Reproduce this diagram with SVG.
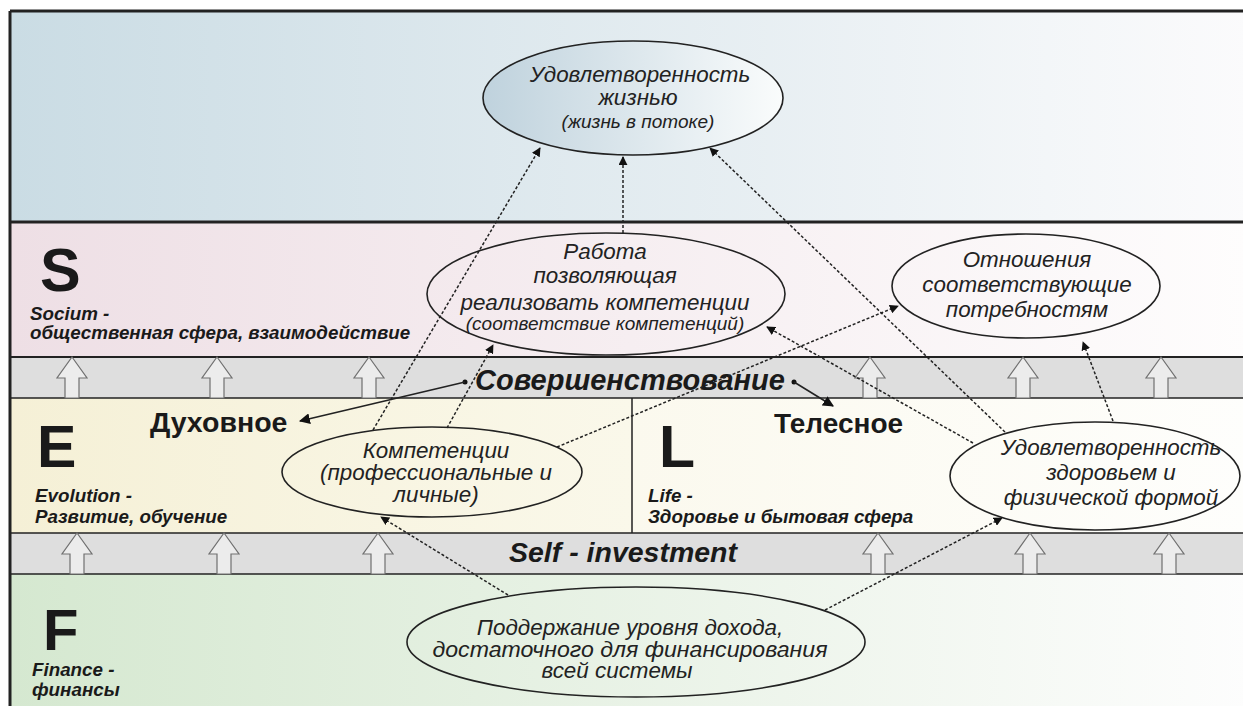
<svg xmlns="http://www.w3.org/2000/svg" width="1243" height="706" viewBox="0 0 1243 706">
<defs>
<linearGradient id="gTop" x1="0" y1="0" x2="1" y2="0"><stop offset="0" stop-color="#cadce4"/><stop offset="1" stop-color="#fbfbfc"/></linearGradient>
<linearGradient id="gS" x1="0" y1="0" x2="1" y2="0"><stop offset="0" stop-color="#eedfe5"/><stop offset="1" stop-color="#fefdfd"/></linearGradient>
<linearGradient id="gE" x1="0" y1="0" x2="1" y2="0"><stop offset="0" stop-color="#f5f0d6"/><stop offset="1" stop-color="#faf8ea"/></linearGradient>
<linearGradient id="gL" x1="0" y1="0" x2="1" y2="0"><stop offset="0" stop-color="#fbf9ee"/><stop offset="1" stop-color="#fefefc"/></linearGradient>
<linearGradient id="gF" x1="0" y1="0" x2="1" y2="0"><stop offset="0" stop-color="#d5e8d0"/><stop offset="1" stop-color="#fdfdfd"/></linearGradient>
<linearGradient id="gEl" x1="0" y1="0" x2="1" y2="0"><stop offset="0" stop-color="#bfd2dd"/><stop offset="1" stop-color="#fafcfc"/></linearGradient>
<marker id="ah" viewBox="0 0 10 10" refX="9" refY="5" markerWidth="9" markerHeight="9" markerUnits="userSpaceOnUse" orient="auto"><path d="M0,0 L10,5 L0,10 Z" fill="#111"/></marker>
<marker id="ahs" viewBox="0 0 10 10" refX="9" refY="5" markerWidth="11" markerHeight="11" markerUnits="userSpaceOnUse" orient="auto"><path d="M0,0 L10,5 L0,10 Z" fill="#111"/></marker>
<path id="upA" d="M0,0 L15,21 L7,21 L7,41 L-7,41 L-7,21 L-15,21 Z"/>
</defs>
<style>
.big{font-family:"Liberation Sans",Arial,sans-serif;font-weight:bold;fill:#1a1a1a}
.sub{font-family:"Liberation Sans",Arial,sans-serif;font-weight:bold;font-style:italic;font-size:18.8px;fill:#1a1a1a}
.el{font-family:"Liberation Sans",Arial,sans-serif;font-style:italic;font-size:22.4px;fill:#222;text-anchor:middle}
.sm{font-size:19px}
.ell{stroke:#222;stroke-width:1.6}
.dot{fill:none;stroke:#222;stroke-width:1.5;stroke-dasharray:3 2;marker-end:url(#ah)}
.sol{fill:none;stroke:#222;stroke-width:1.6;marker-end:url(#ahs)}
.arr{fill:#ececec;stroke:#707070;stroke-width:1.2}
.sep{stroke:#222}
</style>

<g id="bands">
<rect x="10" y="11" width="1240" height="211" fill="url(#gTop)"/>
<rect x="10" y="222" width="1240" height="135" fill="url(#gS)"/>
<rect x="10" y="357" width="1240" height="41" fill="#dedede"/>
<rect x="10" y="398" width="622" height="135" fill="url(#gE)"/>
<rect x="632" y="398" width="618" height="135" fill="url(#gL)"/>
<rect x="10" y="533" width="1240" height="41" fill="#dedede"/>
<rect x="10" y="574" width="1240" height="140" fill="url(#gF)"/>
<line class="sep" x1="10" y1="11" x2="1250" y2="11" stroke-width="3"/>
<line class="sep" x1="10" y1="11" x2="10" y2="706" stroke-width="3"/>
<line class="sep" x1="10" y1="222" x2="1250" y2="222" stroke-width="3"/>
<line class="sep" x1="10" y1="357" x2="1250" y2="357" stroke-width="1.8"/>
<line class="sep" x1="10" y1="398" x2="1250" y2="398" stroke-width="1.5"/>
<line class="sep" x1="632" y1="398" x2="632" y2="533" stroke-width="1.5"/>
<line class="sep" x1="10" y1="533" x2="1250" y2="533" stroke-width="1.5"/>
<line class="sep" x1="10" y1="574" x2="1250" y2="574" stroke-width="1.5"/>
</g>

<g id="up-arrows">
<use href="#upA" class="arr" x="72" y="357"/>
<use href="#upA" class="arr" x="217" y="357"/>
<use href="#upA" class="arr" x="369" y="357"/>
<use href="#upA" class="arr" x="870" y="357"/>
<use href="#upA" class="arr" x="1023" y="357"/>
<use href="#upA" class="arr" x="1161" y="357"/>
<use href="#upA" class="arr" x="77" y="533"/>
<use href="#upA" class="arr" x="224" y="533"/>
<use href="#upA" class="arr" x="378" y="533"/>
<use href="#upA" class="arr" x="878" y="533"/>
<use href="#upA" class="arr" x="1030" y="533"/>
<use href="#upA" class="arr" x="1169" y="533"/>
</g>

<g id="band-labels">
<text class="big" x="40" y="291" font-size="61">S</text>
<text class="sub" x="30" y="320">Socium -</text>
<text class="sub" x="30" y="339">общественная сфера, взаимодействие</text>
<text class="big" x="37" y="467" font-size="59">E</text>
<text class="sub" x="35" y="502">Evolution -</text>
<text class="sub" x="35" y="523">Развитие, обучение</text>
<text class="big" x="659" y="467" font-size="59">L</text>
<text class="sub" x="648" y="502">Life -</text>
<text class="sub" x="648" y="523">Здоровье и бытовая сфера</text>
<text class="big" x="43" y="650" font-size="58">F</text>
<text class="sub" x="32" y="676">Finance -</text>
<text class="sub" x="32" y="696">финансы</text>
<text class="big" x="150" y="432" font-size="28.5">Духовное</text>
<text class="big" x="774" y="433" font-size="28">Телесное</text>
<text class="big" x="630" y="390" font-size="29" font-style="italic" text-anchor="middle">Совершенствование</text>
<text class="big" x="623" y="562" font-size="28.5" font-style="italic" text-anchor="middle">Self - investment</text>
</g>

<g id="node-life">
<ellipse class="ell" cx="633" cy="98" rx="150" ry="57" fill="url(#gEl)"/>
<text class="el" x="640" y="82">Удовлетворенность</text>
<text class="el" x="638" y="105">жизнью</text>
<text class="el sm" x="638" y="128">(жизнь в потоке)</text>
</g>

<g id="node-work">
<ellipse class="ell" cx="606" cy="294" rx="179" ry="61" fill="none"/>
<text class="el" x="605" y="259">Работа</text>
<text class="el" x="605" y="283">позволяющая</text>
<text class="el" x="605" y="310">реализовать компетенции</text>
<text class="el sm" x="605" y="330">(соответствие компетенций)</text>
</g>

<g id="node-relations">
<ellipse class="ell" cx="1026" cy="286" rx="134" ry="52" fill="none"/>
<text class="el" x="1027" y="267">Отношения</text>
<text class="el" x="1027" y="292">соответствующие</text>
<text class="el" x="1027" y="317">потребностям</text>
</g>

<g id="node-comp">
<ellipse class="ell" cx="432" cy="472" rx="150" ry="45" fill="none"/>
<text class="el" x="436" y="458" font-size="21.5">Компетенции</text>
<text class="el" x="436" y="480" font-size="21.5">(профессиональные и</text>
<text class="el" x="436" y="502" font-size="21.5">личные)</text>
</g>

<g id="node-health">
<ellipse class="ell" cx="1095" cy="476" rx="145" ry="54" fill="none"/>
<text class="el" x="1111" y="455">Удовлетворенность</text>
<text class="el" x="1111" y="480">здоровьем и</text>
<text class="el" x="1111" y="505">физической формой</text>
</g>

<g id="node-finance">
<ellipse class="ell" cx="636" cy="642" rx="229" ry="55" fill="none"/>
<text class="el" x="630" y="635">Поддержание уровня дохода,</text>
<text class="el" x="630" y="657" textLength="395" lengthAdjust="spacingAndGlyphs">достаточного для финансирования</text>
<text class="el" x="617" y="678">всей системы</text>
</g>

<g id="connectors">
<line class="dot" x1="373" y1="430" x2="540" y2="148"/>
<line class="dot" x1="623" y1="233" x2="623" y2="157"/>
<line class="dot" x1="1005" y1="432" x2="710" y2="148"/>
<line class="dot" x1="973" y1="443" x2="767" y2="327"/>
<line class="dot" x1="1113" y1="421" x2="1083" y2="342"/>
<line class="dot" x1="557" y1="447" x2="898" y2="306"/>
<line class="dot" x1="447" y1="428" x2="493" y2="345"/>
<line class="dot" x1="508" y1="595" x2="381" y2="517"/>
<line class="dot" x1="825" y1="610" x2="1002" y2="518"/>
<circle cx="465" cy="382" r="2.5" fill="#111"/>
<circle cx="794" cy="382" r="2.5" fill="#111"/>
<line class="sol" x1="465" y1="382" x2="300" y2="421"/>
<line class="sol" x1="794" y1="382" x2="833" y2="406"/>
</g>
</svg>
